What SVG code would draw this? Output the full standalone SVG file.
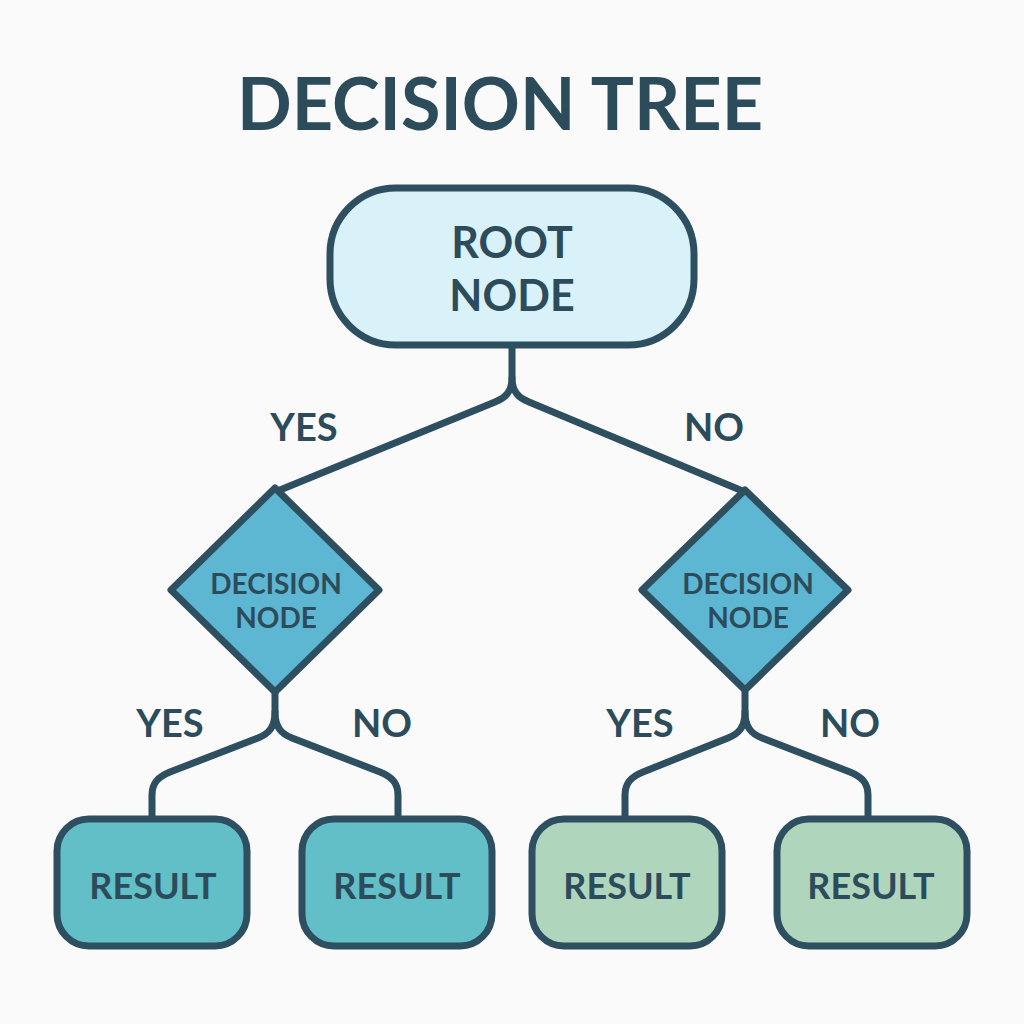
<svg xmlns="http://www.w3.org/2000/svg" width="1024" height="1024" viewBox="0 0 1024 1024">
<style>
.t{font-family:Lato,"Noto Sans","Liberation Sans",sans-serif;font-weight:bold;fill:#2c4c5c;text-anchor:middle}
.edge{fill:none;stroke:#2d4f60;stroke-width:7;stroke-linejoin:round;stroke-linecap:round}
.box{stroke:#2d4f60;stroke-width:7}
</style>
<rect width="1024" height="1024" fill="#fbfafa"/>
<text class="t" x="500" y="130" font-size="72">DECISION TREE</text>
<g id="connectors">
<path class="edge" d="M512,347 V378 C512,392 505,398 495,402 L280,490"/>
<path class="edge" d="M512,378 C512,392 519,398 529,402 L745,492"/>
<path class="edge" d="M275,693 V712 C275,728 268,734 258,738 L170,772 C158,777 152,783 152,795 V818"/>
<path class="edge" d="M275,712 C275,728 282,734 292,738 L380,772 C392,777 398,783 398,795 V818"/>
<path class="edge" d="M745,691 V712 C745,728 738,734 728,738 L643,772 C631,777 625,783 625,795 V818"/>
<path class="edge" d="M745,712 C745,728 752,734 762,738 L850,772 C862,777 868,783 868,795 V818"/>
<text class="t" x="304" y="441" font-size="38">YES</text>
<text class="t" x="714" y="441" font-size="38">NO</text>
<text class="t" x="170" y="737" font-size="38">YES</text>
<text class="t" x="382" y="737" font-size="38">NO</text>
<text class="t" x="640" y="737" font-size="38">YES</text>
<text class="t" x="850" y="737" font-size="38">NO</text>
</g>
<g id="root">
<rect class="box" x="330" y="188" width="364" height="157" rx="66" fill="#d9f1f8"/>
<text class="t" x="512" y="258" font-size="43">ROOT</text>
<text class="t" x="512" y="311" font-size="43">NODE</text>
</g>
<g id="decision-left">
<path class="box" d="M275,488 L379,590 L275,692 L171,590 Z" fill="#5db6d2" stroke-linejoin="round"/>
<text class="t" x="276" y="594" font-size="28">DECISION</text>
<text class="t" x="276" y="628" font-size="28">NODE</text>
</g>
<g id="decision-right">
<path class="box" d="M745,490 L848,590 L745,690 L642,590 Z" fill="#5db6d2" stroke-linejoin="round"/>
<text class="t" x="748" y="594" font-size="28">DECISION</text>
<text class="t" x="748" y="628" font-size="28">NODE</text>
</g>
<g id="result-1">
<rect class="box" x="57" y="819" width="190" height="127" rx="32" fill="#62bfc8"/>
<text class="t" x="153" y="899" font-size="36">RESULT</text>
</g>
<g id="result-2">
<rect class="box" x="302" y="819" width="190" height="127" rx="32" fill="#62bfc8"/>
<text class="t" x="397" y="899" font-size="36">RESULT</text>
</g>
<g id="result-3">
<rect class="box" x="532" y="819" width="190" height="127" rx="32" fill="#b0d5bd"/>
<text class="t" x="627" y="899" font-size="36">RESULT</text>
</g>
<g id="result-4">
<rect class="box" x="777" y="819" width="190" height="127" rx="32" fill="#b0d5bd"/>
<text class="t" x="871" y="899" font-size="36">RESULT</text>
</g>
</svg>
